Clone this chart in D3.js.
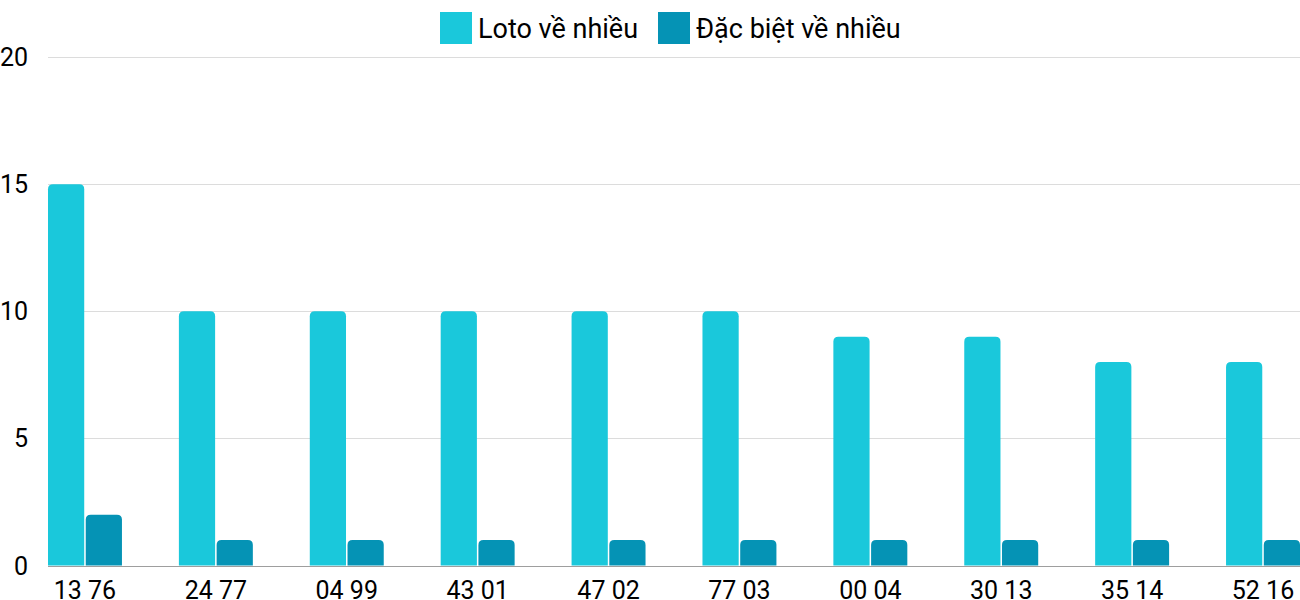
<!DOCTYPE html>
<html>
<head>
<meta charset="utf-8">
<script src="https://cdn.jsdelivr.net/npm/d3@7"></script>
<style>
  html, body { margin: 0; padding: 0; background: #fff; }
  svg { display: block; font-family: Roboto, "Noto Sans", sans-serif; }
</style>
</head>
<body>
<div id="chart"></div>
<script>
// grouped bar chart: loto vs dac biet

var categories = ["13 76", "24 77", "04 99", "43 01", "47 02", "77 03", "00 04", "30 13", "35 14", "52 16"];
var lotoValues = [15, 10, 10, 10, 10, 10, 9, 9, 8, 8];
var specialValues = [2, 1, 1, 1, 1, 1, 1, 1, 1, 1];
var seriesNames = ["Loto về nhiều", "Đặc biệt về nhiều"];
var seriesColors = ["#1ac8db", "#0593b5"];
var yTicks = [0, 5, 10, 15, 20];

var width = 1300, height = 600;
var margin = { top: 57, right: 0, bottom: 34, left: 48 };

var svg = d3.select("#chart").append("svg")
    .attr("width", width)
    .attr("height", height);

var x = d3.scaleBand()
    .domain(categories)
    .range([margin.left, width - margin.right])
    .paddingInner(0.435)
    .paddingOuter(0);

var xs = d3.scaleBand()
    .domain([0, 1])
    .range([0, x.bandwidth()])
    .paddingInner(0.04);

var y = d3.scaleLinear()
    .domain([0, 20])
    .range([height - margin.bottom - 0.5, margin.top]);

// gridlines
svg.append("g")
    .selectAll("line")
    .data(yTicks.filter(function(d) { return d > 0; }))
    .enter().append("line")
    .attr("x1", margin.left)
    .attr("x2", width)
    .attr("y1", function(d) { return Math.round(y(d)) + 0.5; })
    .attr("y2", function(d) { return Math.round(y(d)) + 0.5; })
    .attr("stroke", "#dcdcdc")
    .attr("stroke-width", 1);

// y labels
svg.append("g")
    .selectAll("text")
    .data(yTicks)
    .enter().append("text")
    .attr("x", 28)
    .attr("y", function(d) { return y(d); })
    .attr("dy", "0.36em")
    .attr("text-anchor", "end")
    .attr("font-size", 25)
    .attr("fill", "#000")
    .text(function(d) { return d; });

// rounded-top bar path
function barPath(x0, w, yTop, yBase, r) {
    r = Math.min(r, w / 2, yBase - yTop);
    return "M" + x0 + "," + yBase +
        "V" + (yTop + r) +
        "Q" + x0 + "," + yTop + " " + (x0 + r) + "," + yTop +
        "H" + (x0 + w - r) +
        "Q" + (x0 + w) + "," + yTop + " " + (x0 + w) + "," + (yTop + r) +
        "V" + yBase + "Z";
}

var series = [lotoValues, specialValues];
var groups = svg.append("g")
    .selectAll("g")
    .data(categories)
    .enter().append("g")
    .attr("transform", function(d) { return "translate(" + x(d) + ",0)"; });

groups.selectAll("path")
    .data(function(d, i) { return series.map(function(s, k) { return { k: k, v: s[i] }; }); })
    .enter().append("path")
    .attr("d", function(d) { return barPath(xs(d.k), xs.bandwidth(), y(d.v), y(0), 5); })
    .attr("fill", function(d) { return seriesColors[d.k]; });

// baseline
svg.append("line")
    .attr("x1", margin.left)
    .attr("x2", width)
    .attr("y1", Math.round(y(0)) + 0.5)
    .attr("y2", Math.round(y(0)) + 0.5)
    .attr("stroke", "#9e9e9e")
    .attr("stroke-width", 1);

// x labels
svg.append("g")
    .selectAll("text")
    .data(categories)
    .enter().append("text")
    .attr("x", function(d) { return x(d) + x.bandwidth() / 2; })
    .attr("y", 599)
    .attr("text-anchor", "middle")
    .attr("font-size", 25)
    .attr("fill", "#000")
    .text(function(d) { return d; });

// legend
var legendX = [440, 658];
var legend = svg.append("g")
    .selectAll("g")
    .data(seriesNames)
    .enter().append("g")
    .attr("transform", function(d, i) { return "translate(" + legendX[i] + ",12)"; });

legend.append("rect")
    .attr("width", 32)
    .attr("height", 32)
    .attr("fill", function(d, i) { return seriesColors[i]; });

legend.append("text")
    .attr("x", 38)
    .attr("y", 16)
    .attr("dy", "0.36em")
    .attr("font-size", 27)
    .attr("fill", "#000")
    .text(function(d) { return d; });
</script>
</body>
</html>
